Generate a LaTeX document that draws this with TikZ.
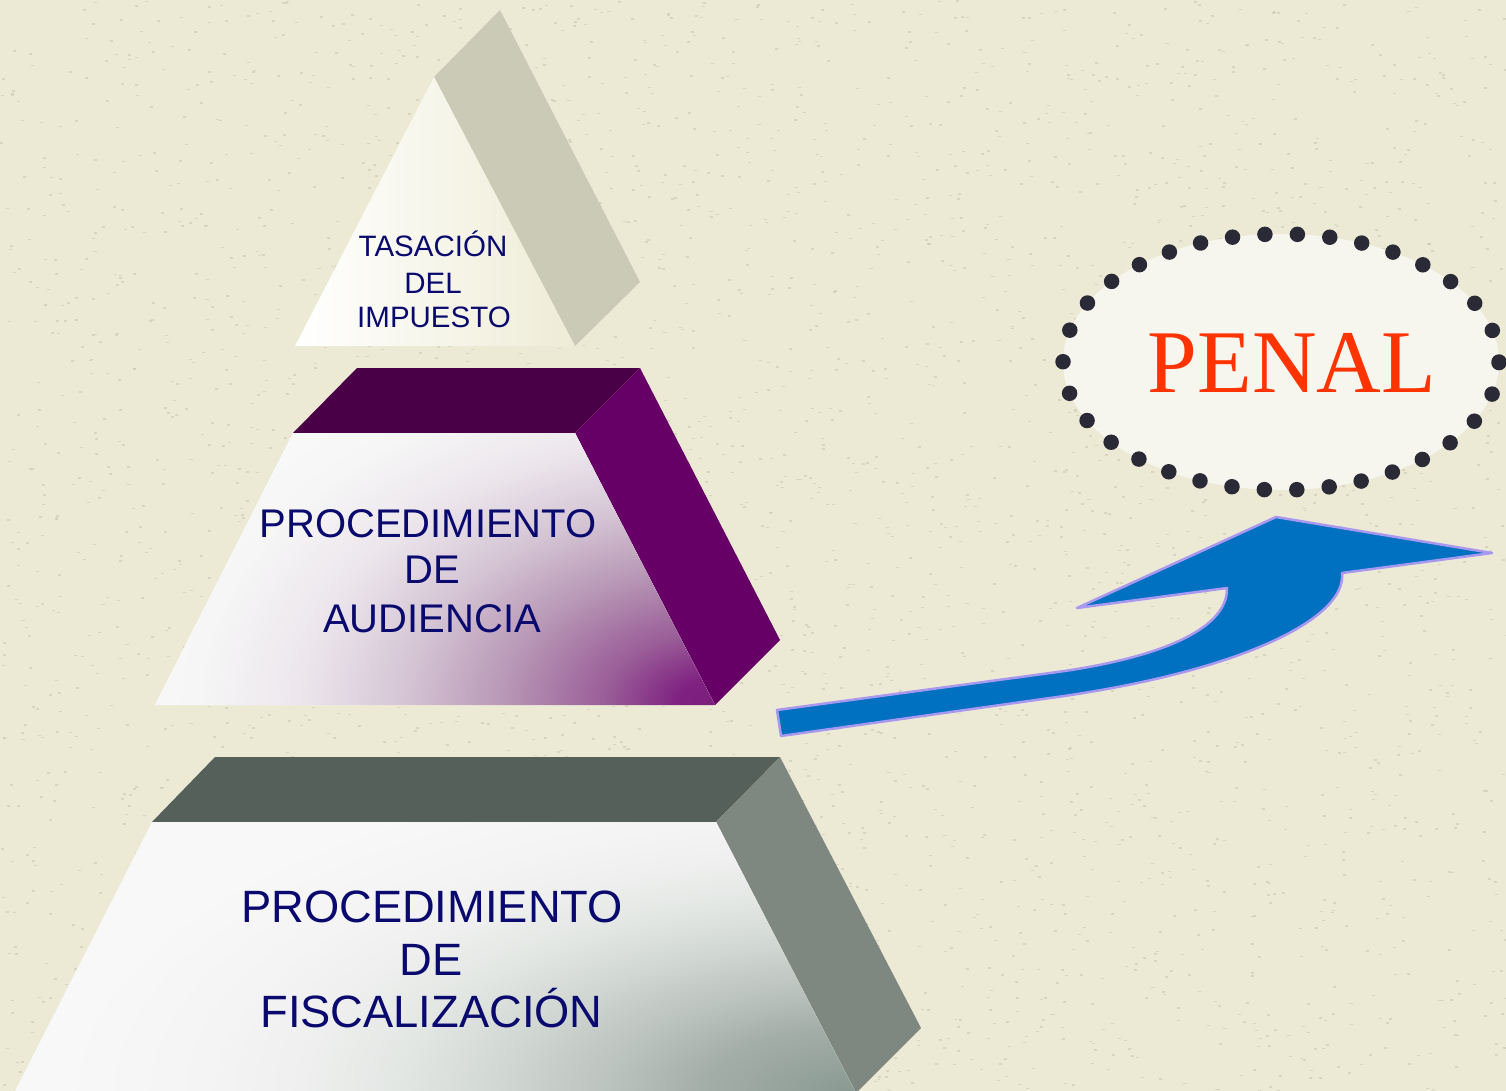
\documentclass[tikz,border=0pt]{standalone}
\usepackage{fontspec}
\setmainfont{Liberation Sans}
\newfontfamily\penalfont{Liberation Serif}
\usetikzlibrary{shapes.geometric}
\definecolor{bgc}{HTML}{ECEAD5}
\definecolor{speck}{HTML}{C9C7B0}
\definecolor{navy}{RGB}{10,10,110}
\definecolor{cream}{HTML}{EEECD6}
\definecolor{topside}{HTML}{CBCAB6}
\definecolor{purptop}{HTML}{4A0046}
\definecolor{purpside}{HTML}{660066}
\definecolor{purpA}{HTML}{7A1E7A}
\definecolor{purpB}{HTML}{7E2080}
\definecolor{purpC}{HTML}{9A5E98}
\definecolor{purpD}{HTML}{B898B6}
\definecolor{purpE}{HTML}{D4C4D4}
\definecolor{purpF}{HTML}{ECE6EC}
\definecolor{purpG}{HTML}{F6F6F6}
\definecolor{purpH}{HTML}{FAFAFA}
\definecolor{graytop}{HTML}{56605A}
\definecolor{grayside}{HTML}{7E8780}
\definecolor{grayA}{HTML}{889890}
\definecolor{grayB}{HTML}{8E9E96}
\definecolor{grayC}{HTML}{A4AEA8}
\definecolor{grayD}{HTML}{BCC4C0}
\definecolor{grayE}{HTML}{D0D6D2}
\definecolor{grayF}{HTML}{E2E6E3}
\definecolor{grayG}{HTML}{EEEFEE}
\definecolor{grayH}{HTML}{F4F4F4}
\definecolor{grayI}{HTML}{F8F8F8}
\definecolor{arrowblue}{HTML}{0070C0}
\definecolor{arrowedge}{HTML}{A898F0}
\definecolor{ellfill}{HTML}{F6F5EE}
\definecolor{dotc}{HTML}{2A2A36}
\definecolor{penalred}{HTML}{FF3300}
\pgfdeclareradialshading{purpglow}{\pgfpoint{0bp}{0bp}}{color(0bp)=(purpA); color(1.5bp)=(purpB); color(4.4bp)=(purpC); color(8.3bp)=(purpD); color(12bp)=(purpE); color(16bp)=(purpF); color(20bp)=(purpG); color(25bp)=(purpH); color(50bp)=(purpH)}
\pgfdeclareradialshading{grayglow}{\pgfpoint{0bp}{0bp}}{color(0bp)=(grayA); color(1.1bp)=(grayB); color(4.9bp)=(grayC); color(8bp)=(grayD); color(11.1bp)=(grayE); color(14.25bp)=(grayF); color(17.4bp)=(grayG); color(20.5bp)=(grayH); color(25bp)=(grayI); color(50bp)=(grayI)}
\tikzset{
  lbl/.style={text=navy, anchor=base, inner sep=0pt},
}
\begin{document}
\begin{tikzpicture}[x=1pt,y=-1pt]
\useasboundingbox (0,0) rectangle (1506,1091);
\fill[bgc] (0,0) rectangle (1506,1091);
\pgfmathsetseed{7}
\foreach \i in {1,...,3500}{
  \pgfmathsetmacro{\px}{1506*rnd}
  \pgfmathsetmacro{\py}{1091*rnd}
  \fill[speck, opacity=0.6] (\px,\py) rectangle ++(3,1.5);
}
\begin{scope}
\clip (0,0) rectangle (1506,1091);
% top triangle
\fill[topside] (434,77) -- (500,10) -- (640,282) -- (575,346) -- cycle;
\shade[left color=white, right color=cream] (434,77) -- (575,346) -- (295,346) -- cycle;
% middle frustum
\fill[purptop] (357,368) -- (640,368) -- (575,433) -- (293,433) -- cycle;
\fill[purpside] (640,368) -- (780,640) -- (715,705) -- (575,433) -- cycle;
\begin{scope}
\clip (293,433) -- (575,433) -- (715,705) -- (155,705) -- cycle;
\fill[purpH] (150,430) rectangle (720,710);
\shade[shading=purpglow] (718,705) ellipse [x radius=650, y radius=420];
\end{scope}
% bottom frustum
\fill[graytop] (215,757) -- (780,757) -- (716,822) -- (152,822) -- cycle;
\fill[grayside] (780,757) -- (921,1028) -- (856,1093) -- (716,822) -- cycle;
\begin{scope}
\clip (152,822) -- (716,822) -- (856,1093) -- (14,1093) -- cycle;
\fill[grayI] (0,815) rectangle (870,1095);
\shade[shading=grayglow] (860,1093) ellipse [x radius=800, y radius=340];
\end{scope}
\end{scope}
% labels
\node[lbl, font=\fontsize{29.5}{34}\selectfont] (t1) at (433,257) {TASACIÓN};
\node[lbl, font=\fontsize{29.5}{34}\selectfont] (t2) at (433,293) {DEL};
\node[lbl, font=\fontsize{29.5}{34}\selectfont] (t3) at (434,327) {IMPUESTO};
\node[lbl, font=\fontsize{40}{48}\selectfont] (m1) at (428,537) {PROCEDIMIENTO};
\node[lbl, font=\fontsize{40}{48}\selectfont] (m2) at (432,583) {DE};
\node[lbl, font=\fontsize{40}{48}\selectfont] (m3) at (432,632) {AUDIENCIA};
\node[lbl, font=\fontsize{45.3}{52}\selectfont] (b1) at (432,922) {PROCEDIMIENTO};
\node[lbl, font=\fontsize{45.3}{52}\selectfont] (b2) at (431,975) {DE};
\node[lbl, font=\fontsize{45.3}{52}\selectfont] (b3) at (431.5,1027) {FISCALIZACIÓN};
% arrow
\draw[fill=arrowblue, draw=arrowedge, line width=2.5pt, line join=round]
  (777,710) -- (1050,673) .. controls (1150,660) and (1228,632) .. (1227,588)
  -- (1077,608) -- (1276,517) -- (1492,553) -- (1342,573) -- (1342,578)
  .. controls (1340,620) and (1240,672) .. (1050,698) -- (781,736) -- cycle;
% oval
\node[ellipse, fill=ellfill, draw=dotc, line width=15.5pt, dash pattern=on 0pt off 32.5pt, line cap=round, minimum width=436pt, minimum height=256pt, inner sep=0pt] (oval) at (1281,362) {};
\node[anchor=base, inner sep=0pt, text=penalred, font=\penalfont\fontsize{89.5}{100}\selectfont] (penal) at (1292,392) {PENAL};
\end{tikzpicture}
\end{document}
